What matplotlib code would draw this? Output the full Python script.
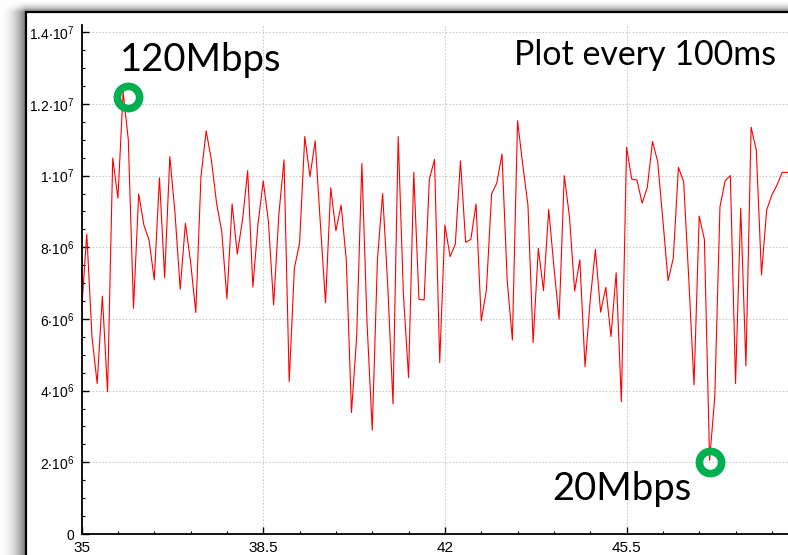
import numpy as np
import matplotlib.pyplot as plt
from matplotlib.patches import Rectangle

# throughput samples, one every 100 ms, in units of 1e6
rate = [6.25, 8.37, 5.5, 4.2, 6.64, 3.97, 10.49, 9.37, 12.34, 11.0,
        6.3, 9.49, 8.62, 8.2, 7.09, 9.94, 7.15, 10.53, 8.95, 6.83,
        8.67, 7.59, 6.18, 9.97, 11.25, 10.44, 9.24, 8.44, 6.56, 9.21,
        7.81, 8.76, 10.14, 6.89, 8.67, 9.85, 8.71, 6.39, 8.9, 10.44,
        4.25, 7.42, 8.12, 11.09, 9.97, 10.97, 8.67, 6.45, 9.66, 8.46,
        9.18, 7.65, 3.39, 5.51, 10.34, 5.88, 2.90, 7.65, 9.50, 6.90,
        3.63, 11.09, 6.7, 4.36, 10.09, 6.55, 6.53, 9.90, 10.45, 4.78,
        8.62, 7.74, 8.08, 10.41, 8.14, 8.22, 9.21, 5.95, 6.81, 9.49,
        9.79, 10.60, 7.09, 5.41, 11.53, 10.30, 9.18, 5.34, 7.97, 6.79,
        9.06, 7.46, 5.99, 10.0, 8.85, 6.78, 7.65, 4.67, 6.53, 7.94,
        6.19, 6.88, 5.51, 7.29, 3.69, 10.79, 9.90, 9.88, 9.23, 9.67,
        10.95, 10.39, 8.76, 7.07, 7.69, 10.23, 9.83, 7.09, 4.16, 8.87,
        8.22, 2.06, 3.83, 9.13, 9.86, 10.0, 4.20, 9.09, 4.69, 11.35,
        10.71, 7.23, 9.04, 9.46, 9.74, 10.09, 10.09]
t_start = 35.0
t_step = 0.1

x_ticks = [35, 38.5, 42, 45.5]
x_labels = ['35', '38.5', '42', '45.5']
y_ticks = [0, 2e6, 4e6, 6e6, 8e6, 1e7, 1.2e7, 1.4e7]
y_labels = ['0', r'$\mathregular{2{\cdot}10^6}$', r'$\mathregular{4{\cdot}10^6}$',
            r'$\mathregular{6{\cdot}10^6}$', r'$\mathregular{8{\cdot}10^6}$',
            r'$\mathregular{1{\cdot}10^7}$', r'$\mathregular{1.2{\cdot}10^7}$',
            r'$\mathregular{1.4{\cdot}10^7}$']

# circled points: (time, value)
peak_pt = (35.9, 12.2e6)
low_pt = (47.11, 2.02e6)

plt.rcParams['font.family'] = ['Liberation Sans', 'DejaVu Sans']

W, H = 788, 555
fig = plt.figure(figsize=(W / 100, H / 100), dpi=100)

# screenshot frame with drop shadow
bg = fig.add_axes([0, 0, 1, 1])
bg.set_xlim(0, W)
bg.set_ylim(H, 0)
bg.axis('off')
bx, by = 26, 12
xx, yy = np.meshgrid(np.arange(W) + 0.5, np.arange(H) + 0.5)
shade = np.zeros((H, W))
left = xx < bx
top = yy < by
shade[left] = (xx[left] / bx) ** 2
shade[top] = np.maximum(shade[top], (yy[top] / by) ** 2)
shade[left & top] = (xx[left & top] / bx) ** 2 * (yy[left & top] / by) ** 2
gray = 1 - 0.55 * shade
bg.imshow(np.dstack([gray, gray, gray]), extent=(0, W, H, 0), aspect='auto')
bg.add_patch(Rectangle((bx, by), W, H, facecolor='white', edgecolor='black', lw=1.6))

# plot area
x0, x1 = 81.6, 788
y_zero, y_top = 534, 25
px_per_unit = 51.9
px_per_val = 35.84 / 1e6
ax = fig.add_axes([x0 / W, (H - y_zero) / H, (x1 - x0) / W, (y_zero - y_top) / H])
ax.set_facecolor('none')

t = t_start + t_step * np.arange(len(rate))
ax.plot(t, np.array(rate) * 1e6, color='#ff0000', lw=0.8)

ax.set_xlim(35, 35 + (x1 - x0) / px_per_unit)
ax.set_ylim(0, (y_zero - y_top) / px_per_val)

ax.set_xticks(x_ticks)
ax.set_xticklabels(x_labels)
ax.set_yticks(y_ticks)
ax.set_yticklabels(y_labels)
ax.set_xticks(np.arange(35, 49, 0.7), minor=True)
ax.set_yticks(np.arange(0, 1.42e7, 5e5), minor=True)
ax.tick_params(which='major', direction='in', length=5, width=1)
ax.tick_params(axis='x', which='major', labelsize=11, pad=5)
ax.tick_params(axis='y', which='major', labelsize=10, pad=5)
ax.tick_params(which='minor', direction='in', length=2.5, width=0.8)
ax.grid(True, which='major', color='#cccccc', ls=(0, (1.5, 1.5)), lw=0.8)

for s in ['top', 'right']:
    ax.spines[s].set_visible(False)
for s in ['left', 'bottom']:
    ax.spines[s].set_linewidth(1.3)

# annotations
ring = dict(marker='o', ms=16, mfc='none', mec='#00b050', mew=5.5, ls='none', clip_on=False)
ax.plot(*peak_pt, **ring)
ax.plot(*low_pt, **ring)
note_font = ['Lato', 'DejaVu Sans']
ax.text(35.74, 12.93e6, '120Mbps', fontsize=27.5, family=note_font, va='baseline')
ax.text(44.06, 0.95e6, '20Mbps', fontsize=27.5, family=note_font, va='baseline')
ax.text(48.38, 13.09e6, 'Plot every 100ms', fontsize=24.5, family=note_font,
        va='baseline', ha='right')

fig.savefig('out.png', dpi=100)
